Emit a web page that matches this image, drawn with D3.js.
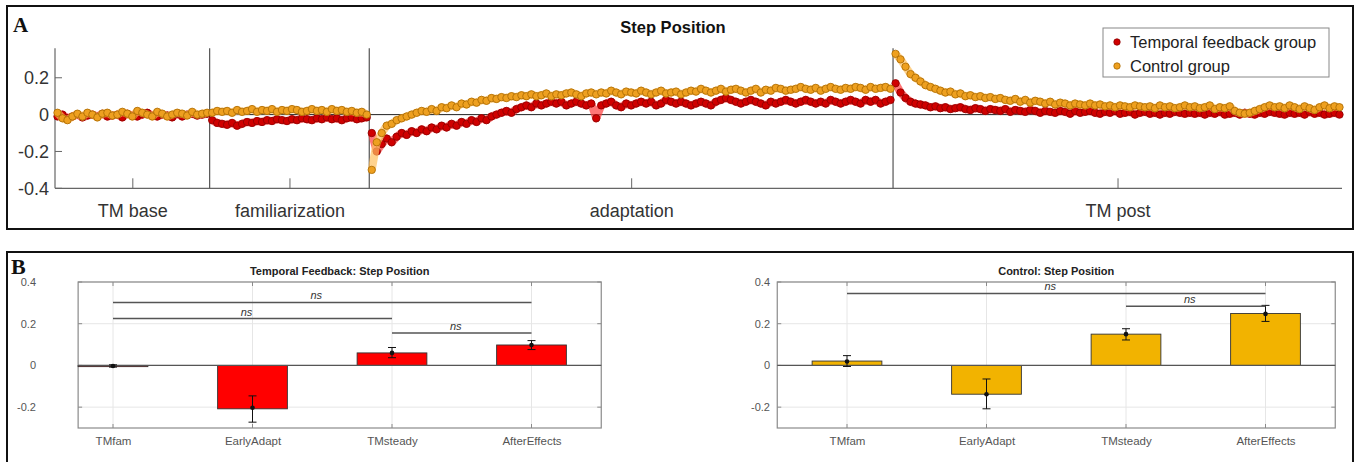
<!DOCTYPE html>
<html><head><meta charset="utf-8">
<script src="https://cdn.jsdelivr.net/npm/d3@7"></script>
<style>body{margin:0;background:#fff}svg{display:block}</style>
</head><body>
<svg id="c" width="1361" height="462"></svg>
<script>
// ---------- Panel A data ----------
const phases = ["TM base", "familiarization", "adaptation", "TM post"];
const seriesNames = ["Temporal feedback group", "Control group"];
const yTicksA = [-0.4, -0.2, 0, 0.2];
const tickLabelsA = ["-0.4", "-0.2", "0", "0.2"];

const temporalBase = [-0.01,0.0,-0.02,-0.01,0.0,-0.015,-0.005,0.0,-0.01,0.005,-0.01,-0.005,0.0,-0.015,0.005,-0.005,-0.01,0.0,0.01,-0.005,-0.01,0.0,-0.005,-0.015,0.005,-0.01,0.0,0.005,-0.005,0.0,0.005];
const temporalFam = [-0.03,-0.045,-0.05,-0.055,-0.045,-0.06,-0.05,-0.04,-0.045,-0.035,-0.04,-0.03,-0.035,-0.025,-0.03,-0.035,-0.025,-0.03,-0.02,-0.025,-0.03,-0.02,-0.025,-0.015,-0.025,-0.02,-0.03,-0.02,-0.015,-0.025,-0.02,-0.015];
const temporalAdapt = [-0.1,-0.2,-0.16,-0.13,-0.15,-0.12,
  -0.1,-0.11,-0.09,-0.1,-0.08,-0.09,-0.07,-0.08,-0.06,-0.07,
  -0.05,-0.06,-0.04,-0.05,-0.03,-0.04,-0.02,-0.03,-0.01,0.0,
  0.01,0.02,0.01,0.03,0.04,0.05,0.04,0.06,0.05,0.06,
  0.07,0.06,0.07,0.05,0.06,0.07,0.06,0.05,0.06,-0.02,
  0.05,0.06,0.07,0.05,0.04,0.06,0.05,0.06,0.07,0.06,
  0.07,0.05,0.06,0.08,0.07,0.06,0.07,0.06,0.05,0.06,
  0.07,0.06,0.05,0.07,0.08,0.09,0.08,0.07,0.06,0.07,
  0.08,0.07,0.06,0.05,0.07,0.06,0.07,0.08,0.07,0.06,
  0.07,0.08,0.07,0.06,0.07,0.06,0.08,0.07,0.06,0.07,
  0.08,0.07,0.06,0.08,0.07,0.08,0.06,0.07,0.08];
const temporalPost = [0.17,0.12,0.09,0.07,0.06,0.055,0.05,0.04,0.045,0.035,
  0.04,0.03,0.035,0.04,0.03,0.025,0.035,0.03,0.02,0.03,
  0.025,0.02,0.03,0.015,0.025,0.02,0.015,0.025,0.02,0.01,
  0.02,0.015,0.01,0.02,0.015,0.005,0.02,0.01,0.015,0.02,
  0.01,0.005,0.015,0.01,0.02,0.005,0.01,0.015,0.0,0.01,
  0.015,0.005,0.01,0.0,0.01,0.005,0.015,0.01,0.005,0.01,
  0.005,0.01,0.0,0.01,0.005,0.015,0.0,0.005,0.01,0.0,
  0.01,0.005,0.0,0.01,0.005,0.015,0.01,0.005,0.0,0.01,
  0.005,0.01,0.0,0.015,0.005,0.01,0.0,0.005,0.01,0.0];

const controlBase = [0.01,-0.02,-0.03,-0.01,0.005,-0.01,0.01,0.0,-0.015,0.005,0.01,-0.005,0.0,0.015,0.005,-0.01,0.02,0.01,0.0,-0.01,0.015,0.005,-0.01,0.0,0.01,0.005,-0.005,0.015,0.0,0.005,0.01];
const controlFam = [0.01,0.02,0.015,0.02,0.01,0.025,0.015,0.02,0.03,0.015,0.025,0.02,0.03,0.015,0.025,0.02,0.03,0.025,0.015,0.02,0.03,0.02,0.025,0.015,0.03,0.02,0.025,0.015,0.02,0.01,0.015,0.0];
const controlAdapt = [-0.3,-0.15,-0.1,-0.06,-0.05,-0.03,
  -0.02,-0.01,0.0,0.01,0.02,0.015,0.03,0.02,0.04,0.035,
  0.05,0.04,0.06,0.055,0.07,0.065,0.08,0.075,0.09,0.085,
  0.095,0.09,0.1,0.095,0.105,0.1,0.11,0.1,0.105,0.115,
  0.1,0.11,0.105,0.115,0.12,0.11,0.1,0.115,0.12,0.11,
  0.12,0.115,0.13,0.12,0.11,0.125,0.12,0.115,0.13,0.12,
  0.11,0.12,0.13,0.115,0.12,0.125,0.11,0.12,0.13,0.125,
  0.14,0.13,0.12,0.13,0.14,0.125,0.135,0.14,0.13,0.12,
  0.13,0.14,0.12,0.135,0.13,0.145,0.14,0.13,0.135,0.14,
  0.15,0.14,0.135,0.145,0.13,0.14,0.15,0.14,0.135,0.145,
  0.14,0.15,0.145,0.135,0.15,0.14,0.145,0.15,0.14];
const controlPost = [0.33,0.3,0.26,0.22,0.2,0.18,0.16,0.15,0.14,0.13,
  0.12,0.125,0.11,0.115,0.1,0.105,0.095,0.1,0.09,0.095,
  0.085,0.09,0.08,0.075,0.085,0.07,0.08,0.065,0.075,0.07,
  0.06,0.07,0.055,0.065,0.06,0.05,0.06,0.055,0.05,0.06,
  0.05,0.055,0.045,0.05,0.04,0.05,0.045,0.04,0.05,0.045,
  0.04,0.045,0.035,0.05,0.04,0.045,0.035,0.04,0.05,0.04,
  0.045,0.035,0.04,0.05,0.03,0.04,0.035,0.045,0.02,0.01,
  0.005,0.01,0.02,0.03,0.04,0.05,0.04,0.045,0.035,0.05,
  0.04,0.03,0.045,0.035,0.025,0.04,0.05,0.035,0.045,0.04];

// ---------- Panel B data ----------
const conditions = ["TMfam", "EarlyAdapt", "TMsteady", "AfterEffects"];
const yTicksB = [-0.2, 0, 0.2, 0.4];
const tickLabelsB = ["-0.2", "0", "0.2", "0.4"];
const temporalMeans = [-0.003, -0.208, 0.06, 0.098];
const temporalDots  = [-0.003, -0.203, 0.06, 0.098];
const temporalLow   = [-0.008, -0.272, 0.037, 0.076];
const temporalHigh  = [0.003, -0.146, 0.086, 0.119];
const temporalSig = [["TMfam","AfterEffects",0.302],["TMfam","TMsteady",0.225],["TMsteady","AfterEffects",0.156]];
const controlMeans = [0.021, -0.138, 0.15, 0.249];
const controlDots  = [0.019, -0.138, 0.15, 0.247];
const controlLow   = [-0.005, -0.208, 0.122, 0.211];
const controlHigh  = [0.047, -0.065, 0.176, 0.288];
const controlSig = [["TMfam","AfterEffects",0.345],["TMsteady","AfterEffects",0.284]];

// ---------- Drawing ----------
const svg = d3.select("#c");
const sans = "'Liberation Sans', Arial, sans-serif";
const serif = "'Liberation Serif', 'Times New Roman', serif";

// Panel frames
svg.append("rect").attr("x",7).attr("y",6).attr("width",1346).attr("height",223)
  .attr("fill","none").attr("stroke","#111").attr("stroke-width",2);
svg.append("rect").attr("x",7).attr("y",252).attr("width",1346).attr("height",220)
  .attr("fill","none").attr("stroke","#111").attr("stroke-width",2);
svg.append("text").attr("x",13).attr("y",32).text("A")
  .attr("font-family",serif).attr("font-weight","bold").attr("font-size",21).attr("fill","#111");
svg.append("text").attr("x",11).attr("y",274).text("B")
  .attr("font-family",serif).attr("font-weight","bold").attr("font-size",22).attr("fill","#111");

// ----- Panel A -----
const tSeries = [temporalBase, temporalFam, temporalAdapt, temporalPost];
const cSeries = [controlBase, controlFam, controlAdapt, controlPost];
const bounds = [0];
tSeries.forEach(a => bounds.push(bounds[bounds.length-1] + a.length));
const nTot = bounds[bounds.length-1];
const xA = d3.scaleLinear().domain([0, nTot]).range([55, 1342]);
const yA = d3.scaleLinear().domain([-0.4, 0.36]).range([188.3, 48.3]);
const gA = svg.append("g");

// y axis
gA.append("line").attr("x1",55).attr("x2",55).attr("y1",yA(0.36)).attr("y2",yA(-0.4))
  .attr("stroke","#666").attr("stroke-width",1.2);
const yAxA = d3.axisLeft(yA).tickValues(yTicksA).tickFormat((d,i)=>tickLabelsA[i]).tickSize(0).tickPadding(6);
const yg = gA.append("g").attr("transform","translate(55,0)").call(yAxA);
yg.select(".domain").remove();
yg.selectAll("text").attr("font-family",sans).attr("font-size",18).attr("fill","#333");
yTicksA.forEach(v => gA.append("line").attr("x1",55).attr("x2",62).attr("y1",yA(v)).attr("y2",yA(v)).attr("stroke","#666"));
// bottom axis
gA.append("line").attr("x1",55).attr("x2",1342).attr("y1",yA(-0.4)).attr("y2",yA(-0.4)).attr("stroke","#666").attr("stroke-width",1.2);
const centers = phases.map((p,i)=> (bounds[i]+bounds[i+1])/2);
const xAxA = d3.axisBottom(xA).tickValues(centers).tickFormat((d,i)=>phases[i]).tickSizeInner(-10).tickSizeOuter(0).tickPadding(16);
const xg = gA.append("g").attr("transform",`translate(0,${yA(-0.4)})`).call(xAxA);
xg.select(".domain").remove();
xg.selectAll("line").attr("stroke","#666");
xg.selectAll("text").attr("font-family",sans).attr("font-size",18).attr("fill","#333");
// phase boundaries
bounds.slice(1,-1).forEach(b => gA.append("line").attr("x1",xA(b)).attr("x2",xA(b))
  .attr("y1",yA(0.36)).attr("y2",yA(-0.4)).attr("stroke","#555").attr("stroke-width",1.2));
// zero line
gA.append("line").attr("x1",55).attr("x2",1342).attr("y1",yA(0)).attr("y2",yA(0)).attr("stroke","#222").attr("stroke-width",1);

function drawSeries(parts, bandColor, fill, stroke) {
  parts.forEach((arr, pi) => {
    const pts = arr.map((v,i)=>({x: bounds[pi]+i+0.5, y: v}));
    const line = d3.line().x(d=>xA(d.x)).y(d=>yA(d.y));
    gA.append("path").datum(pts).attr("d", line).attr("fill","none")
      .attr("stroke", bandColor).attr("stroke-width", 8).attr("stroke-linejoin","round").attr("opacity",0.7);
    gA.append("g").selectAll("circle").data(pts).join("circle")
      .attr("cx", d=>xA(d.x)).attr("cy", d=>yA(d.y)).attr("r", 3.7)
      .attr("fill", fill).attr("stroke", stroke).attr("stroke-width", 0.8);
  });
}
drawSeries(tSeries, "#ff3a3a", "#d00000", "#8a0000");
drawSeries(cSeries, "#ffc060", "#eea020", "#a86800");

// title A
svg.append("text").attr("x",673).attr("y",33).attr("text-anchor","middle").text("Step Position")
  .attr("font-family",sans).attr("font-weight","bold").attr("font-size",16.5).attr("fill","#111");
// legend
const lg = svg.append("g");
lg.append("rect").attr("x",1103).attr("y",28).attr("width",226).attr("height",49)
  .attr("fill","#fff").attr("stroke","#888").attr("stroke-width",1);
[["#d00000","#8a0000"],["#eea020","#a86800"]].forEach((c,i)=>{
  lg.append("circle").attr("cx",1117).attr("cy",42+i*24).attr("r",3.2).attr("fill",c[0]).attr("stroke",c[1]).attr("stroke-width",0.8);
  lg.append("text").attr("x",1130).attr("y",48+i*24).text(seriesNames[i])
    .attr("font-family",sans).attr("font-size",16.5).attr("fill","#222");
});

// ----- Panel B -----
function barPanel(opt) {
  const g = svg.append("g");
  const step = 139.5;
  const x = d3.scalePoint().domain(conditions).range([opt.firstX, opt.firstX + 3*step]);
  const y = d3.scaleLinear().domain([-0.3, 0.4]).range([428, 282]);
  const left = opt.firstX - opt.leftPad*step, right = opt.firstX + 3.5*step;
  yTicksB.forEach(v => g.append("line").attr("x1",left).attr("x2",right).attr("y1",y(v)).attr("y2",y(v)).attr("stroke","#e6e6e6"));
  conditions.forEach(c => g.append("line").attr("x1",x(c)).attr("x2",x(c)).attr("y1",y(0.4)).attr("y2",y(-0.3)).attr("stroke","#e6e6e6"));
  g.append("rect").attr("x",left).attr("y",y(0.4)).attr("width",right-left).attr("height",y(-0.3)-y(0.4))
    .attr("fill","none").attr("stroke","#8a8a8a").attr("stroke-width",1.2);
  yTicksB.forEach(v => {
    g.append("line").attr("x1",left).attr("x2",left+4).attr("y1",y(v)).attr("y2",y(v)).attr("stroke","#8a8a8a");
    g.append("line").attr("x1",right-4).attr("x2",right).attr("y1",y(v)).attr("y2",y(v)).attr("stroke","#8a8a8a");
  });
  conditions.forEach(c => {
    g.append("line").attr("x1",x(c)).attr("x2",x(c)).attr("y1",y(-0.3)).attr("y2",y(-0.3)-4).attr("stroke","#8a8a8a");
    g.append("line").attr("x1",x(c)).attr("x2",x(c)).attr("y1",y(0.4)).attr("y2",y(0.4)+4).attr("stroke","#8a8a8a");
  });
  const ya = d3.axisLeft(y).tickValues(yTicksB).tickFormat((d,i)=>tickLabelsB[i]).tickSize(0).tickPadding(0);
  const yga = g.append("g").attr("transform",`translate(${opt.labelX},0)`).call(ya);
  yga.select(".domain").remove();
  yga.selectAll("text").attr("font-family",sans).attr("font-size",11).attr("fill","#555");
  const xa = d3.axisBottom(x).tickSize(0).tickPadding(9);
  const xga = g.append("g").attr("transform",`translate(0,${y(-0.3)})`).call(xa);
  xga.select(".domain").remove();
  xga.selectAll("text").attr("font-family","'Liberation Sans Narrow', 'Arial Narrow', "+sans).attr("font-size",11.5).attr("fill","#555");
  const bw = step*0.5;
  g.selectAll("rect.bar").data(conditions).join("rect").attr("class","bar")
    .attr("x", c=>x(c)-bw/2).attr("width", bw)
    .attr("y", (c,i)=>y(Math.max(0,opt.means[i]))).attr("height",(c,i)=>Math.max(1.2,Math.abs(y(opt.means[i])-y(0))))
    .attr("fill", opt.color).attr("stroke","#333").attr("stroke-width",0.9);
  g.append("line").attr("x1",left).attr("x2",right).attr("y1",y(0)).attr("y2",y(0)).attr("stroke","#555").attr("stroke-width",1.2);
  conditions.forEach((c,i)=>{
    const cx = x(c);
    g.append("line").attr("x1",cx).attr("x2",cx).attr("y1",y(opt.low[i])).attr("y2",y(opt.high[i])).attr("stroke","#111").attr("stroke-width",1);
    [opt.low[i],opt.high[i]].forEach(v=> g.append("line").attr("x1",cx-4).attr("x2",cx+4).attr("y1",y(v)).attr("y2",y(v)).attr("stroke","#111").attr("stroke-width",1));
    g.append("circle").attr("cx",cx).attr("cy",y(opt.dots[i])).attr("r",2.3).attr("fill","#111");
  });
  opt.sig.forEach(s=>{
    const x1 = x(s[0]), x2 = x(s[1]), yy = y(s[2]);
    g.append("line").attr("x1",x1).attr("x2",x2).attr("y1",yy).attr("y2",yy).attr("stroke","#555").attr("stroke-width",1.5);
    g.append("text").attr("x",(x1+x2)/2-6).attr("y",yy-3).attr("text-anchor","middle").text("ns")
      .attr("font-family",sans).attr("font-style","italic").attr("font-size",11).attr("fill","#333");
  });
  g.append("text").attr("x",(left+right)/2).attr("y",275).attr("text-anchor","middle").text(opt.title)
    .attr("font-family",sans).attr("font-weight","bold").attr("font-size",11).attr("fill","#222");
}
barPanel({firstX:113, leftPad:0.25, labelX:36, color:"#ff0000", means:temporalMeans, dots:temporalDots,
  low:temporalLow, high:temporalHigh, sig:temporalSig, title:"Temporal Feedback: Step Position"});
barPanel({firstX:847, leftPad:0.5, labelX:770, color:"#f2b300", means:controlMeans, dots:controlDots,
  low:controlLow, high:controlHigh, sig:controlSig, title:"Control: Step Position"});
</script>
</body></html>
